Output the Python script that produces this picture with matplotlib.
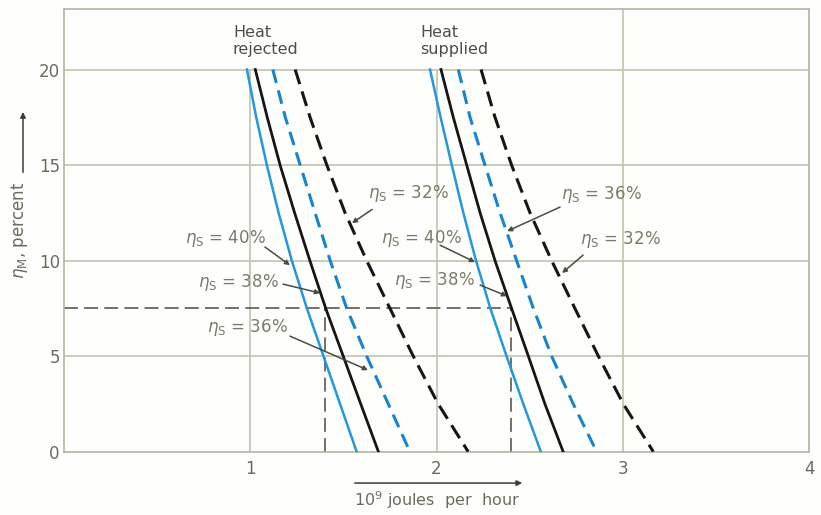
import matplotlib
matplotlib.use("Agg")
import matplotlib.pyplot as plt

plt.rcParams['font.family'] = ['DejaVu Sans']
plt.rcParams['lines.scale_dashes'] = False

# ---- data (eta_M in percent, heat in 10^9 J/h) ----
eta_m = [20, 17.5, 15, 12.5, 10, 7.5, 5, 2.5, 0]

rejected_40 = [0.982, 1.032, 1.089, 1.152, 1.223, 1.304, 1.393, 1.482, 1.571]
rejected_38 = [1.027, 1.091, 1.160, 1.238, 1.320, 1.405, 1.499, 1.593, 1.688]
rejected_36 = [1.121, 1.188, 1.268, 1.348, 1.429, 1.518, 1.625, 1.741, 1.857]
rejected_32 = [1.241, 1.321, 1.411, 1.509, 1.625, 1.750, 1.875, 2.009, 2.170]

supplied_40 = [1.965, 2.022, 2.082, 2.144, 2.212, 2.289, 2.376, 2.466, 2.560]
supplied_38 = [2.024, 2.090, 2.162, 2.234, 2.314, 2.403, 2.493, 2.582, 2.680]
supplied_36 = [2.117, 2.180, 2.260, 2.341, 2.430, 2.520, 2.618, 2.734, 2.860]
supplied_32 = [2.239, 2.314, 2.403, 2.502, 2.618, 2.743, 2.869, 3.003, 3.164]

# operating point example
eta_m_example = 7.5
rejected_example = 1.40
supplied_example = 2.40

x_ticks = [1, 2, 3, 4]
y_ticks = [0, 5, 10, 15, 20]

# ---- styles ----
C_LB = '#2398da'
C_BD = '#1784d0'
C_K = '#161616'
C_GRID = '#c3c3ae'
C_TXT = '#7b7b69'
C_ARR = '#44503f'

fig = plt.figure(figsize=(8.21, 5.15), dpi=100, facecolor='#fefefc')
ax = fig.add_axes([0.078, 0.1229, 0.9074, 0.859])
ax.set_facecolor('#fefefc')
ax.set_xlim(0, 4)
ax.set_ylim(0, 23.15)

for s in ax.spines.values():
    s.set_color('#b4b4a2')
    s.set_linewidth(1.2)

ax.set_xticks(x_ticks)
ax.set_yticks(y_ticks)
ax.tick_params(length=0, labelsize=12, labelcolor='#6c6c5c')
ax.tick_params(axis='x', pad=6)
ax.tick_params(axis='y', pad=3)

# grid
for yv in y_ticks[1:]:
    ax.axhline(yv, color=C_GRID, lw=1.2, zorder=1)
ax.vlines([1, 2], 0, 20, color=C_GRID, lw=1.2, zorder=1)
ax.vlines([3], 0, 23.15, color=C_GRID, lw=1.2, zorder=1)

# example dashed construction
ref_kw = dict(color='#66665a', lw=1.3, dashes=(10, 4.5), zorder=2)
ax.plot([0, supplied_example], [eta_m_example, eta_m_example], **ref_kw)
ax.plot([rejected_example, rejected_example], [0, eta_m_example], **ref_kw)
ax.plot([supplied_example, supplied_example], [0, eta_m_example], **ref_kw)

# curves
for xs40, xs38, xs36, xs32 in [(rejected_40, rejected_38, rejected_36, rejected_32),
                                (supplied_40, supplied_38, supplied_36, supplied_32)]:
    ax.plot(xs40, eta_m, color=C_LB, lw=1.8, zorder=3)
    ax.plot(xs38, eta_m, color=C_K, lw=2.0, zorder=3)
    ax.plot(xs36, eta_m, color=C_BD, lw=2.2, dashes=(10, 5.5), zorder=3)
    ax.plot(xs32, eta_m, color=C_K, lw=2.2, dashes=(11, 5.5), zorder=3)

# header labels
ax.text(0.907, 21.5, 'Heat\nrejected', fontsize=11.5, color='#4f4f45',
        ha='left', va='center', linespacing=1.15)
ax.text(1.912, 21.5, 'Heat\nsupplied', fontsize=11.5, color='#4f4f45',
        ha='left', va='center', linespacing=1.15)

# annotations: (label, text pos, arrow start, arrow end)
notes = [
    ('32%', (1.85, 13.52), (1.654, 12.68), (1.546, 11.96)),
    ('40%', (0.864, 11.17), (1.079, 10.71), (1.213, 9.76)),
    ('38%', (0.937, 8.87), (1.176, 8.77), (1.375, 8.30)),
    ('36%', (0.983, 6.52), (1.213, 6.05), (1.632, 4.27)),
    ('40%', (1.917, 11.17), (2.019, 10.81), (2.207, 9.92)),
    ('38%', (1.987, 8.98), (2.234, 8.72), (2.379, 8.14)),
    ('36%', (2.883, 13.47), (2.663, 12.80), (2.379, 11.54)),
    ('32%', (2.985, 11.13), (2.787, 10.29), (2.674, 9.35)),
]
for pct, tpos, a0, a1 in notes:
    ax.text(tpos[0], tpos[1], r'$\eta_{\mathrm{S}}$ = ' + pct, fontsize=12,
            color=C_TXT, ha='center', va='center', zorder=5)
    ax.annotate('', xy=a1, xytext=a0,
                arrowprops=dict(arrowstyle='-|>', color=C_ARR, lw=1.1,
                                mutation_scale=7, shrinkA=0, shrinkB=0),
                zorder=5)

# axis labels with arrows
fig.text(0.0235, 0.553, r'$\eta_{\mathrm{M}}$, percent', rotation=90,
         fontsize=12, color='#6c6c5c', ha='center', va='center')
fig.add_artist(matplotlib.patches.FancyArrowPatch(
    (0.028, 0.660), (0.028, 0.788), transform=fig.transFigure,
    arrowstyle='-|>', mutation_scale=8, color='#3c3c34', lw=1.1))

fig.text(0.532, 0.008, r'$10^9$ joules  per  hour', fontsize=11.5,
         color='#6c6c5c', ha='center', va='bottom')
fig.add_artist(matplotlib.patches.FancyArrowPatch(
    (0.4287, 0.062), (0.6395, 0.062), transform=fig.transFigure,
    arrowstyle='-|>', mutation_scale=8, color='#3c3c34', lw=1.1))

fig.savefig('out.png', dpi=100, facecolor=fig.get_facecolor())
